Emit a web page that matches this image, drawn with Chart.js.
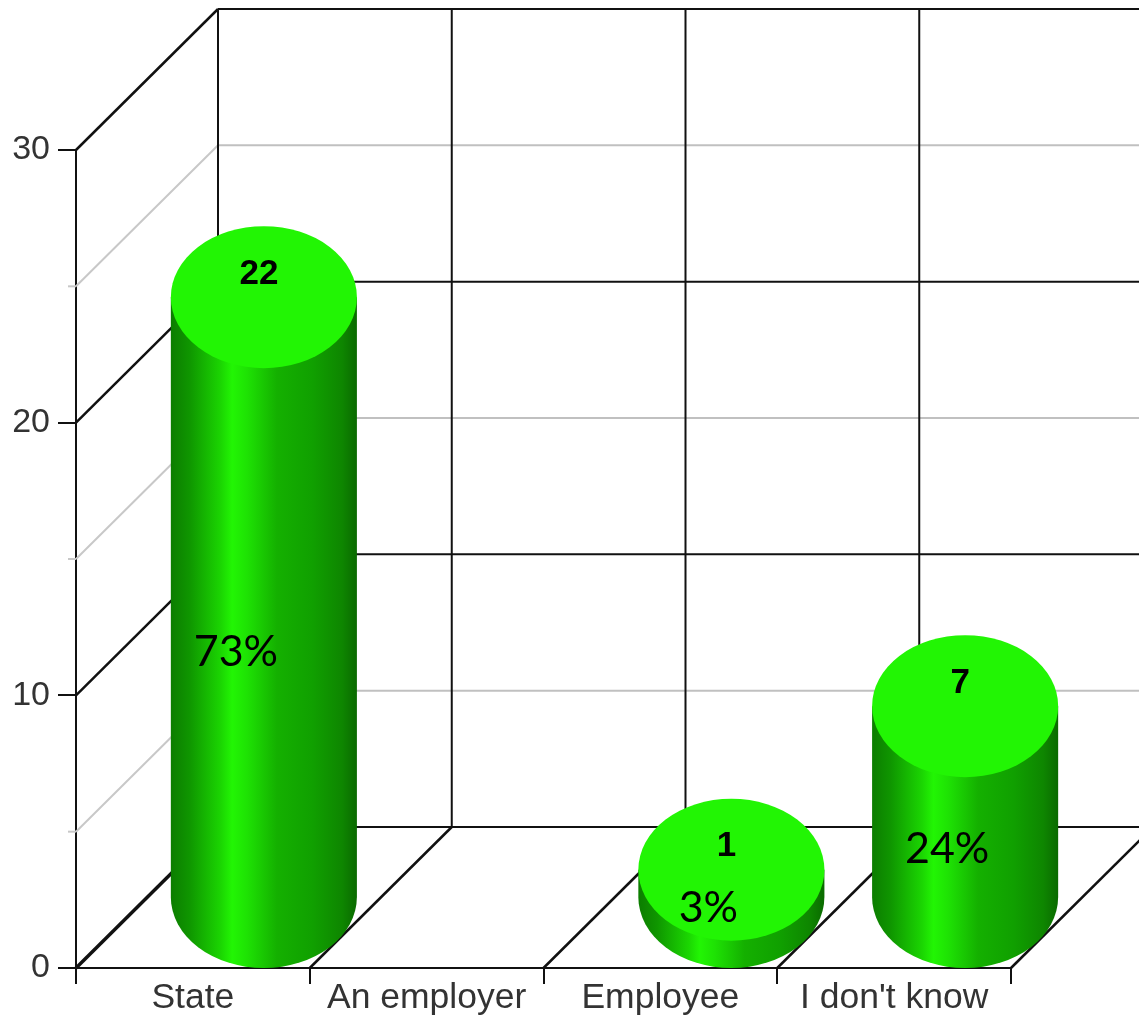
<!DOCTYPE html>
<html>
<head>
<meta charset="utf-8">
<style>
html,body{margin:0;padding:0;background:#fff;overflow:hidden}
canvas{display:block;filter:blur(0.6px)}
</style>
<script src="https://cdn.jsdelivr.net/npm/chart.js@4"></script>
</head>
<body>
<canvas id="c" width="1139" height="1019"></canvas>
<script>
const categories = ["State", "An employer", "Employee", "I don't know"];
const counts = [22, 0, 1, 7];
const percents = ["73%", "", "3%", "24%"];
const majorLevels = [0, 10, 20, 30];
const minorLevels = [5, 15, 25];

const DEPTH = 142;
const LIFT = 141;
const percentOffsets = [[-28, 355], null, [-23, 38], [-18, 143]];
const sideStops = [[0,'#0c7d00'],[0.1,'#0f9600'],[0.27,'#1bd602'],[0.33,'#22f504'],[0.41,'#1ee204'],[0.57,'#14b000'],[0.76,'#10a000'],[0.92,'#0e8600'],[1,'#0a6a00']];
const TOP = '#22f504';

const cylinders = {
  id: 'cylinders',
  beforeDatasetsDraw(chart) {
    const {ctx, scales: {x, y}} = chart;
    const n = categories.length, step = (x.right - x.left) / n;
    const line = (x0, y0, x1, y1, color, w) => {
      ctx.strokeStyle = color; ctx.lineWidth = w;
      ctx.beginPath(); ctx.moveTo(x0, y0); ctx.lineTo(x1, y1); ctx.stroke();
    };
    ctx.save();
    minorLevels.forEach(v => {
      const p = y.getPixelForValue(v);
      line(x.left - 8, p, x.left, p, '#c8c8c8', 2);
      line(x.left, p, x.left + DEPTH, p - LIFT, '#c8c8c8', 2);
      line(x.left + DEPTH, p - LIFT, chart.width, p - LIFT, '#c0c0c0', 2);
    });
    majorLevels.forEach(v => {
      const p = y.getPixelForValue(v);
      line(x.left, p, x.left + DEPTH, p - LIFT, '#111', v === 0 ? 3.5 : 2.5);
      line(x.left + DEPTH, p - LIFT, chart.width, p - LIFT, '#111', 2);
    });
    for (let i = 0; i <= n; i++) {
      const fx = x.left + i * step;
      line(fx + DEPTH, y.top - LIFT, fx + DEPTH, y.bottom - LIFT, '#111', 2);
      if (i > 0) line(fx, y.bottom, fx + DEPTH, y.bottom - LIFT, '#111', 2.5);
    }
    ctx.restore();
  },
  afterDatasetsDraw(chart) {
    const {ctx, scales: {y}} = chart;
    const meta = chart.getDatasetMeta(0);
    const ry = DEPTH / 2;
    ctx.save();
    meta.data.forEach((bar, i) => {
      if (!counts[i]) return;
      const rx = bar.width / 2;
      const cx = bar.x + ry;
      const topY = bar.y - ry;
      const baseY = y.getPixelForValue(0) - ry;
      const g = ctx.createLinearGradient(cx - rx, 0, cx + rx, 0);
      sideStops.forEach(s => g.addColorStop(s[0], s[1]));
      ctx.fillStyle = g;
      ctx.beginPath();
      ctx.moveTo(cx - rx, topY);
      ctx.lineTo(cx - rx, baseY);
      ctx.ellipse(cx, baseY, rx, ry, 0, Math.PI, 0, true);
      ctx.lineTo(cx + rx, topY);
      ctx.closePath();
      ctx.fill();
      ctx.fillStyle = TOP;
      ctx.beginPath();
      ctx.ellipse(cx, topY, rx, ry, 0, 0, Math.PI * 2);
      ctx.fill();
      ctx.fillStyle = '#000';
      ctx.textAlign = 'center';
      ctx.textBaseline = 'middle';
      ctx.font = 'bold 35px "Liberation Sans", Arial, sans-serif';
      ctx.fillText(String(counts[i]), cx - 5, topY - 23);
      const off = percentOffsets[i];
      ctx.font = '43px Lato, sans-serif';
      ctx.fillText(percents[i], cx + off[0], topY + off[1]);
    });
    ctx.restore();
  }
};

new Chart(document.getElementById('c'), {
  type: 'bar',
  data: {
    labels: categories,
    datasets: [{
      data: counts,
      backgroundColor: 'transparent',
      borderWidth: 0,
      barPercentage: 0.796,
      categoryPercentage: 1
    }]
  },
  options: {
    responsive: false,
    animation: false,
    events: [],
    layout: { padding: { top: 150, right: 128, left: 0, bottom: 0 } },
    plugins: { legend: { display: false }, tooltip: { enabled: false }, title: { display: false } },
    scales: {
      x: {
        afterFit: s => { s.height = 51; },
        offset: true,
        grid: { offset: true, drawOnChartArea: false, drawTicks: true, tickLength: 16, color: '#111', lineWidth: 2 },
        border: { display: true, color: '#111', width: 2 },
        ticks: { color: '#333', padding: -7, maxRotation: 0, autoSkip: false, font: { family: '"Liberation Sans", Arial, sans-serif', size: 35.5 } }
      },
      y: {
        min: 0, max: 30,
        afterFit: s => { s.width = 76; },
        afterBuildTicks: s => { s.ticks = majorLevels.map(v => ({ value: v })); },
        grid: { drawOnChartArea: false, drawTicks: true, tickLength: 18, color: '#111', lineWidth: 2 },
        border: { display: true, color: '#111', width: 2 },
        ticks: { color: '#333', padding: 8, font: { family: '"Liberation Sans", Arial, sans-serif', size: 34 } }
      }
    }
  },
  plugins: [cylinders]
});
</script>
</body>
</html>
